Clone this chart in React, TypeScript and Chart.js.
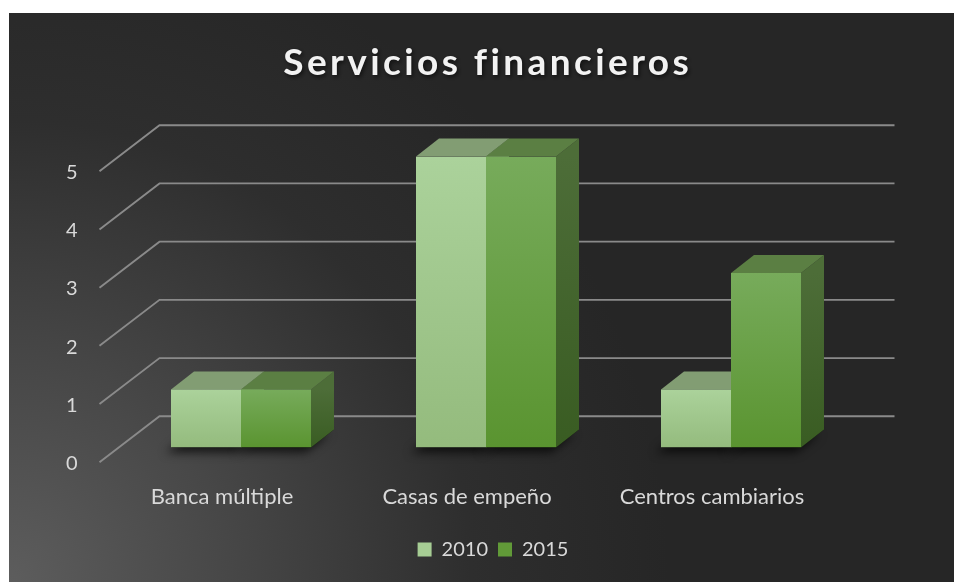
import React, { useEffect, useRef } from "react";
import { Chart, registerables } from "chart.js";

Chart.register(...registerables);

// ---------- data ----------
const TITLE = "Servicios financieros";
const CATEGORIES = ["Banca múltiple", "Casas de empeño", "Centros cambiarios"];
const SERIES = ["2010", "2015"];
const VALUES_2010 = [1, 5, 1];
const VALUES_2015 = [1, 5, 3];
const Y_MIN = 0;
const Y_MAX = 5;
const Y_STEP = 1;

// ---------- style ----------
const CANVAS_W = 945;
const CANVAS_H = 569;
const FONT = "Lato, 'Open Sans', sans-serif";
const TEXT_COLOR = "#d9d9d9";
const GRID_COLOR = "#8a8a8a";

const FRONT_COLORS = [
  ["#abd29b", "#94bb7d"],
  ["#77ab5b", "#5a9430"],
];
const TOP_COLORS = ["#829d73", "#5b7f43"];
const SIDE_COLORS = [
  ["#6e8e5e", "#5d7e4c"],
  ["#4d6d38", "#395c22"],
];
const LEGEND_COLORS = ["#a6cd94", "#619a38"];

// 3D projection offsets (pixels)
const BAR_DEPTH = { dx: 23, dy: -18 };
const FRONT_SHIFT = { dx: -19, dy: 14.7 };
const BACK_SHIFT = { dx: 41, dy: -31.3 };

const X_AXIS_HEIGHT = 82;
const Y_AXIS_WIDTH = 52.5;
const LEGEND_NUDGE_X = 7;

function frontFill(c: any, di: number) {
  const chart = c.chart;
  const ys = chart.scales && chart.scales.y;
  const cols = FRONT_COLORS[di];
  if (!ys || c.raw === undefined || !chart.chartArea) return cols[0];
  const top = ys.getPixelForValue(c.raw);
  const base = ys.getPixelForValue(0);
  if (!isFinite(top) || !isFinite(base) || top === base) return cols[0];
  const g = chart.ctx.createLinearGradient(0, top, 0, base);
  g.addColorStop(0, cols[0]);
  g.addColorStop(1, cols[1]);
  return g;
}

const threeD = {
  id: "threeD",
  afterLayout(chart: any) {
    const lg = chart.legend;
    if (lg) {
      lg.left += LEGEND_NUDGE_X;
      lg.right += LEGEND_NUDGE_X;
    }
  },
  beforeDraw(chart: any) {
    const { ctx, width, height, chartArea } = chart;
    ctx.save();
    const g = ctx.createRadialGradient(0, height, 0, 0, height, 660);
    g.addColorStop(0, "#5d5d5d");
    g.addColorStop(0.35, "#464646");
    g.addColorStop(0.7, "#2e2e2e");
    g.addColorStop(1, "#262626");
    ctx.fillStyle = g;
    ctx.fillRect(0, 0, width, height);

    ctx.font = `bold 37px ${FONT}`;
    (ctx as any).letterSpacing = "3.4px";
    ctx.textAlign = "center";
    ctx.textBaseline = "alphabetic";
    ctx.shadowColor = "rgba(0,0,0,0.6)";
    ctx.shadowBlur = 4;
    ctx.shadowOffsetX = 1.5;
    ctx.shadowOffsetY = 2;
    ctx.fillStyle = "#f2f2f2";
    ctx.fillText(TITLE, (chartArea.left + chartArea.right) / 2 + 1.7, 62);
    ctx.restore();
  },
  beforeDatasetsDraw(chart: any) {
    const { ctx, chartArea } = chart;
    const ys = chart.scales.y;
    ctx.save();
    // walls: side diagonals + back wall lines
    ctx.strokeStyle = GRID_COLOR;
    ctx.lineWidth = 1.9;
    for (let v = Y_MIN; v <= Y_MAX; v += Y_STEP) {
      const py = ys.getPixelForValue(v);
      ctx.beginPath();
      ctx.moveTo(chartArea.left + FRONT_SHIFT.dx, py + FRONT_SHIFT.dy);
      ctx.lineTo(chartArea.left + BACK_SHIFT.dx, py + BACK_SHIFT.dy);
      ctx.lineTo(chartArea.right + BACK_SHIFT.dx, py + BACK_SHIFT.dy);
      ctx.stroke();
    }

    const metas = chart.data.datasets.map((_: any, i: number) => chart.getDatasetMeta(i));

    // soft shadows under bars
    metas.forEach((meta: any) => {
      meta.data.forEach((bar: any) => {
        const { x, base, width } = bar.getProps(["x", "base", "width"], true);
        const l = x - width / 2;
        const r = x + width / 2;
        ctx.save();
        ctx.shadowColor = "rgba(0,0,0,0.85)";
        ctx.shadowBlur = 10;
        ctx.shadowOffsetX = -5;
        ctx.shadowOffsetY = 5;
        ctx.fillStyle = "rgba(0,0,0,0.8)";
        ctx.beginPath();
        ctx.moveTo(l, base);
        ctx.lineTo(r, base);
        ctx.lineTo(r + BAR_DEPTH.dx, base + BAR_DEPTH.dy);
        ctx.lineTo(l + BAR_DEPTH.dx, base + BAR_DEPTH.dy);
        ctx.closePath();
        ctx.fill();
        ctx.restore();
      });
    });

    // side + top faces
    metas.forEach((meta: any, di: number) => {
      meta.data.forEach((bar: any) => {
        const { x, y, base, width } = bar.getProps(["x", "y", "base", "width"], true);
        const l = x - width / 2;
        const r = x + width / 2;
        const sg = ctx.createLinearGradient(0, y, 0, base);
        sg.addColorStop(0, SIDE_COLORS[di][0]);
        sg.addColorStop(1, SIDE_COLORS[di][1]);
        ctx.fillStyle = sg;
        ctx.beginPath();
        ctx.moveTo(r, y);
        ctx.lineTo(r + BAR_DEPTH.dx, y + BAR_DEPTH.dy);
        ctx.lineTo(r + BAR_DEPTH.dx, base + BAR_DEPTH.dy);
        ctx.lineTo(r, base);
        ctx.closePath();
        ctx.fill();

        ctx.fillStyle = TOP_COLORS[di];
        ctx.beginPath();
        ctx.moveTo(l, y);
        ctx.lineTo(r, y);
        ctx.lineTo(r + BAR_DEPTH.dx, y + BAR_DEPTH.dy);
        ctx.lineTo(l + BAR_DEPTH.dx, y + BAR_DEPTH.dy);
        ctx.closePath();
        ctx.fill();
      });
    });
    ctx.restore();
  },
};

export default function App() {
  const ref = useRef<HTMLCanvasElement | null>(null);

  useEffect(() => {
    if (!ref.current) return;
    const chart = new Chart(ref.current, {
      type: "bar",
      data: {
        labels: CATEGORIES,
        datasets: [
          {
            label: SERIES[0],
            data: VALUES_2010,
            backgroundColor: (c: any) => frontFill(c, 0),
            borderWidth: 0,
            categoryPercentage: 0.5714,
            barPercentage: 1,
          },
          {
            label: SERIES[1],
            data: VALUES_2015,
            backgroundColor: (c: any) => frontFill(c, 1),
            borderWidth: 0,
            categoryPercentage: 0.5714,
            barPercentage: 1,
          },
        ],
      },
      options: {
        responsive: false,
        animation: false,
        devicePixelRatio: 1,
        layout: { padding: { left: 57, right: 100.5, top: 143.5, bottom: 12.4 } },
        scales: {
          x: {
            grid: { display: false, drawTicks: false },
            border: { display: false },
            ticks: {
              color: TEXT_COLOR,
              font: { family: FONT, size: 22 },
              padding: 36.5,
              labelOffset: FRONT_SHIFT.dx,
              maxRotation: 0,
              autoSkip: false,
            },
            afterFit: (s: any) => {
              s.height = X_AXIS_HEIGHT;
            },
          },
          y: {
            min: Y_MIN,
            max: Y_MAX,
            grid: { display: false, drawTicks: false },
            border: { display: false },
            ticks: {
              stepSize: Y_STEP,
              color: TEXT_COLOR,
              font: { family: FONT, size: 20 },
              padding: 41,
              labelOffset: 16,
            },
            afterFit: (s: any) => {
              s.width = Y_AXIS_WIDTH;
            },
          },
        },
        plugins: {
          title: { display: false },
          tooltip: { enabled: false },
          legend: {
            display: true,
            position: "bottom",
            fullSize: false,
            labels: {
              boxWidth: 14,
              boxHeight: 14,
              padding: 10,
              color: TEXT_COLOR,
              font: { family: FONT, size: 20 },
              generateLabels: (ch: any) =>
                Chart.defaults.plugins.legend.labels
                  .generateLabels(ch)
                  .map((l: any, i: number) => ({
                    ...l,
                    fillStyle: LEGEND_COLORS[i],
                    strokeStyle: LEGEND_COLORS[i],
                    lineWidth: 0,
                    fontColor: TEXT_COLOR,
                  })),
            },
          },
        },
      },
      plugins: [threeD],
    } as any);
    return () => chart.destroy();
  }, []);

  return (
    <div
      style={{
        position: "absolute",
        left: 9,
        top: 13,
        width: CANVAS_W,
        height: CANVAS_H,
      }}
    >
      <canvas ref={ref} width={CANVAS_W} height={CANVAS_H} />
    </div>
  );
}
